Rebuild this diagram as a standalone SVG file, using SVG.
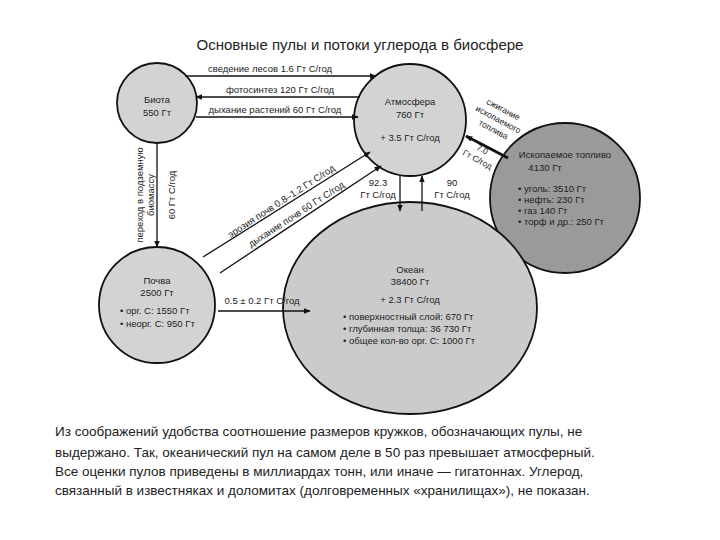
<svg xmlns="http://www.w3.org/2000/svg" width="720" height="540" viewBox="0 0 720 540">
<defs>
<marker id="ah" viewBox="0 0 10 10" refX="9" refY="5" markerWidth="7" markerHeight="7" orient="auto" markerUnits="userSpaceOnUse"><path d="M0,1 L10,5 L0,9 z" fill="#111"/></marker>
<style>
.n{fill:#d3d3d3;stroke:#111;stroke-width:1.8}
.o{fill:#cbcbcb;stroke:#111;stroke-width:1.8}
.d{fill:#9a9a9a;stroke:#111;stroke-width:1.8}
text{font-family:"Liberation Sans",Arial,sans-serif;fill:#222}
.s{font-size:9.5px}
.c{text-anchor:middle}
.l{stroke:#111;stroke-width:1.3;fill:none;marker-end:url(#ah)}
</style>
</defs>
<rect width="720" height="540" fill="#fff"/>
<text x="360" y="50" class="c" style="font-size:15px">Основные пулы и потоки углерода в биосфере</text>
<g id="biota"><circle cx="157" cy="103" r="40" class="n"/><text x="157" y="103" class="s c">Биота</text><text x="157" y="116" class="s c">550 Гт</text></g>
<g id="atmosphere"><circle cx="410" cy="120" r="56" class="n"/><text x="410" y="105" class="s c">Атмосфера</text><text x="410" y="118" class="s c">760 Гт</text><text x="410" y="141" class="s c">+ 3.5 Гт С/год</text></g>
<g id="fossil"><circle cx="565" cy="198" r="75" class="d"/><text x="565" y="158" class="s c">Ископаемое топливо</text><text x="545" y="171" class="s c">4130 Гт</text>
<text x="518" y="192" class="s">•  уголь: 3510 Гт</text><text x="518" y="203" class="s">•  нефть: 230 Гт</text><text x="518" y="214" class="s">•  газ  140 Гт</text><text x="518" y="225" class="s">•  торф и др.: 250 Гт</text></g>
<g id="ocean"><ellipse cx="410" cy="308" rx="127" ry="106" class="o"/><text x="410" y="273" class="s c">Океан</text><text x="410" y="285" class="s c">38400 Гт</text><text x="410" y="303" class="s c">+ 2.3 Гт С/год</text>
<text x="343" y="320" class="s">•  поверхностный слой: 670 Гт</text><text x="343" y="332" class="s">•  глубинная толща: 36 730 Гт</text><text x="343" y="344" class="s">•  общее кол-во орг. С: 1000 Гт</text></g>
<g id="soil"><circle cx="157" cy="305" r="58" class="n"/><text x="157" y="284" class="s c">Почва</text><text x="157" y="296" class="s c">2500 Гт</text><text x="120" y="314" class="s">•  орг. С: 1550 Гт</text><text x="120" y="327" class="s">•  неорг. С: 950 Гт</text></g>
<g id="connectors">
<line x1="185" y1="76" x2="376" y2="76" class="l"/>
<line x1="360" y1="97" x2="196" y2="97" class="l"/>
<line x1="196" y1="117" x2="358" y2="117" class="l"/>
<line x1="157" y1="143" x2="157" y2="247" class="l"/>
<line x1="203" y1="257" x2="370" y2="152" class="l"/>
<line x1="220" y1="273" x2="381" y2="166" class="l"/>
<line x1="400" y1="176" x2="400" y2="211" class="l"/>
<line x1="422" y1="211" x2="422" y2="176" class="l"/>
<line x1="218" y1="311" x2="310" y2="311" class="l"/>
<line x1="508" y1="158" x2="466" y2="136" style="stroke:#111;stroke-width:3;marker-end:url(#ah)"/>
</g>
<g id="labels">
<text x="270" y="72" class="s c">сведение лесов 1.6 Гт С/год</text>
<text x="280" y="93" class="s c">фотосинтез 120 Гт С/год</text>
<text x="275" y="113" class="s c">дыхание растений 60 Гт С/год</text>
<text transform="translate(143,195) rotate(-90)" class="s c">переход в подземную</text>
<text transform="translate(154,195) rotate(-90)" class="s c">биомассу</text>
<text transform="translate(175,195) rotate(-90)" class="s c">60 Гт С/год</text>
<text transform="translate(283,204) rotate(-33)" class="s c">эрозия почв 0.8–1.2 Гт С/год</text>
<text transform="translate(298,217) rotate(-33)" class="s c">дыхание почв 60 Гт С/год</text>
<text x="378" y="186" class="s c">92.3</text><text x="378" y="198" class="s c">Гт С/год</text>
<text x="452" y="186" class="s c">90</text><text x="452" y="198" class="s c">Гт С/год</text>
<text x="262" y="304" class="s c">0.5 ± 0.2 Гт С/год</text>
<text transform="translate(502,112) rotate(28)" class="s c" style="font-size:8.5px">сжигание</text>
<text transform="translate(497,122) rotate(28)" class="s c" style="font-size:8.5px">ископаемого</text>
<text transform="translate(492,132) rotate(28)" class="s c" style="font-size:8.5px">топлива</text>
<text transform="translate(481,152) rotate(28)" class="s c" style="font-size:8.5px">7.0</text>
<text transform="translate(476,162) rotate(28)" class="s c" style="font-size:8.5px">Гт С/год</text>
</g>
<g id="caption" style="font-size:13.5px">
<text x="55" y="436">Из соображений удобства соотношение размеров кружков, обозначающих пулы, не</text>
<text x="55" y="457">выдержано. Так, океанический пул на самом деле в 50 раз превышает атмосферный.</text>
<text x="55" y="476">Все оценки пулов приведены в миллиардах тонн, или иначе — гигатоннах. Углерод,</text>
<text x="55" y="495">связанный в известняках и доломитах (долговременных «хранилищах»), не показан.</text>
</g>
</svg>
